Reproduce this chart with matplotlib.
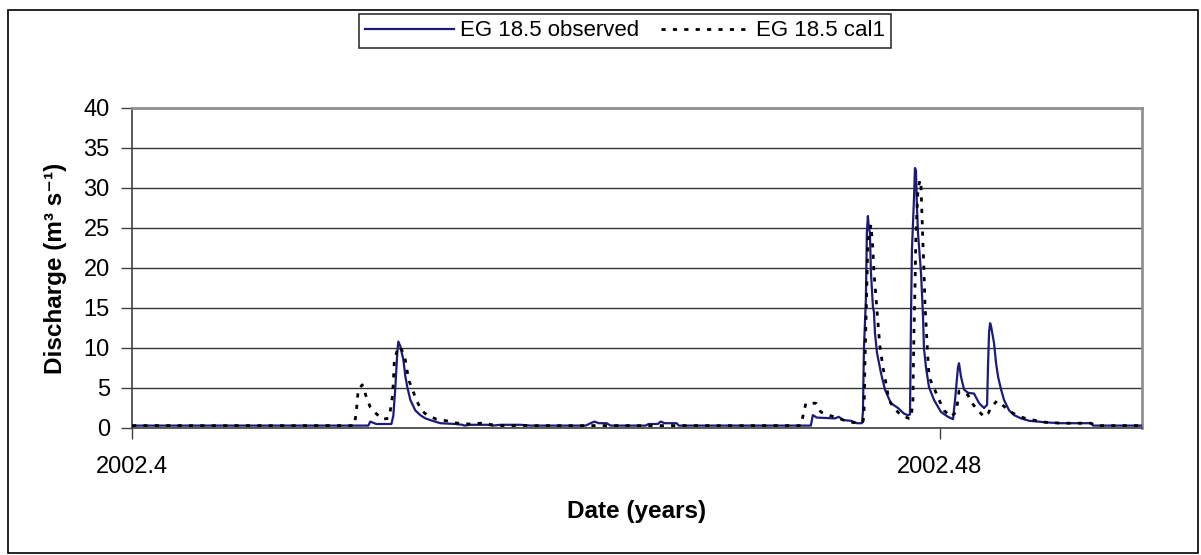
import matplotlib
matplotlib.use("Agg")
import matplotlib.pyplot as plt
from matplotlib.patches import Rectangle

plt.rcParams['font.family'] = ['Liberation Sans', 'DejaVu Sans']

# Observed discharge (decimal years, m3/s)
obs_years = [2002.40000, 2002.42340, 2002.42359, 2002.42399, 2002.42419, 2002.42568,
             2002.42587, 2002.42607, 2002.42627, 2002.42637, 2002.42657, 2002.42687,
             2002.42706, 2002.42726, 2002.42756, 2002.42805, 2002.42855, 2002.42905,
             2002.42974, 2002.43053, 2002.43202, 2002.43271, 2002.43291, 2002.43351,
             2002.43529, 2002.43569, 2002.43648, 2002.43846, 2002.43946, 2002.44491,
             2002.44540, 2002.44580, 2002.44620, 2002.44699, 2002.44739, 2002.45086,
             2002.45115, 2002.45205, 2002.45234, 2002.45274, 2002.45393, 2002.45413,
             2002.46721, 2002.46741, 2002.46781, 2002.46959, 2002.46999, 2002.47038,
             2002.47118, 2002.47177, 2002.47227, 2002.47237, 2002.47247, 2002.47266,
             2002.47276, 2002.47286, 2002.47296, 2002.47306, 2002.47316, 2002.47336,
             2002.47346, 2002.47356, 2002.47376, 2002.47415, 2002.47455, 2002.47514,
             2002.47584, 2002.47643, 2002.47683, 2002.47703, 2002.47713, 2002.47722,
             2002.47742, 2002.47752, 2002.47762, 2002.47772, 2002.47782, 2002.47812,
             2002.47832, 2002.47841, 2002.47861, 2002.47891, 2002.47941, 2002.48010,
             2002.48079, 2002.48129, 2002.48149, 2002.48178, 2002.48188, 2002.48208,
             2002.48238, 2002.48278, 2002.48337, 2002.48387, 2002.48436, 2002.48466,
             2002.48476, 2002.48486, 2002.48496, 2002.48506, 2002.48535, 2002.48555,
             2002.48575, 2002.48605, 2002.48634, 2002.48684, 2002.48734, 2002.48803,
             2002.48882, 2002.48972, 2002.49051, 2002.49200, 2002.49497, 2002.49517,
             2002.50000]
obs_q = [0.3, 0.3, 0.8, 0.6, 0.5, 0.5,
         1.5, 5.0, 9.5, 10.8, 10.2, 8.5,
         6.5, 5.1, 3.5, 2.2, 1.6, 1.2,
         0.9, 0.6, 0.5, 0.4, 0.3, 0.4,
         0.4, 0.3, 0.4, 0.4, 0.3, 0.3,
         0.6, 0.8, 0.6, 0.6, 0.3, 0.3,
         0.5, 0.5, 0.8, 0.6, 0.6, 0.3,
         0.3, 1.6, 1.3, 1.2, 1.4, 1.0,
         0.9, 0.6, 0.6, 2.0, 10.0, 16.0,
         24.5, 26.5, 25.0, 24.4, 19.5, 15.1,
         14.5, 11.9, 9.4, 6.9, 4.8, 3.1,
         2.5, 1.8, 1.6, 1.7, 13.9, 22.3,
         28.5, 32.5, 32.2, 27.6, 24.4, 19.4,
         13.9, 10.0, 7.6, 5.1, 3.5, 2.0,
         1.4, 1.1, 3.5, 7.6, 8.1, 6.4,
         4.8, 4.4, 4.3, 3.1, 2.5, 2.9,
         8.0, 12.0, 13.1, 12.7, 10.6, 8.1,
         6.4, 4.8, 3.5, 2.2, 1.6, 1.2,
         0.9, 0.8, 0.7, 0.6, 0.6, 0.3,
         0.3]

# Modelled discharge, calibration 1
cal_years = [2002.40000, 2002.42201, 2002.42221, 2002.42240, 2002.42280, 2002.42320,
             2002.42359, 2002.42409, 2002.42478, 2002.42538, 2002.42558, 2002.42577,
             2002.42587, 2002.42597, 2002.42627, 2002.42647, 2002.42677, 2002.42706,
             2002.42726, 2002.42746, 2002.42786, 2002.42815, 2002.42865, 2002.42924,
             2002.43014, 2002.43113, 2002.43222, 2002.43331, 2002.43450, 2002.43569,
             2002.43668, 2002.46622, 2002.46652, 2002.46672, 2002.46771, 2002.46820,
             2002.46900, 2002.46999, 2002.47088, 2002.47187, 2002.47237, 2002.47247,
             2002.47256, 2002.47276, 2002.47286, 2002.47316, 2002.47336, 2002.47346,
             2002.47366, 2002.47385, 2002.47405, 2002.47435, 2002.47465, 2002.47494,
             2002.47544, 2002.47613, 2002.47693, 2002.47713, 2002.47732, 2002.47742,
             2002.47752, 2002.47762, 2002.47782, 2002.47802, 2002.47812, 2002.47822,
             2002.47832, 2002.47841, 2002.47851, 2002.47871, 2002.47891, 2002.47941,
             2002.47980, 2002.48040, 2002.48109, 2002.48159, 2002.48178, 2002.48188,
             2002.48228, 2002.48278, 2002.48317, 2002.48377, 2002.48436, 2002.48476,
             2002.48506, 2002.48565, 2002.48644, 2002.48704, 2002.48773, 2002.48872,
             2002.48972, 2002.49051, 2002.49200, 2002.49497, 2002.49527, 2002.50000]
cal_q = [0.3, 0.3, 2.0, 4.8, 5.4, 3.9,
         2.6, 1.9, 1.1, 1.2, 2.2, 3.9,
         5.6, 8.3, 9.8, 10.2, 9.6, 8.5,
         7.0, 5.8, 4.5, 3.5, 2.2, 1.6,
         1.1, 0.9, 0.6, 0.5, 0.6, 0.4,
         0.3, 0.3, 2.0, 3.1, 3.1, 2.0,
         1.6, 1.2, 0.8, 0.6, 0.8, 1.4,
         7.6, 18.0, 23.5, 25.4, 22.3, 19.4,
         16.4, 13.3, 10.2, 7.6, 5.6, 3.5,
         2.5, 1.6, 1.2, 1.2, 3.5, 12.0,
         17.3, 24.4, 29.8, 31.0, 30.2, 26.4,
         22.7, 19.8, 15.6, 10.8, 6.4, 5.0,
         3.8, 2.2, 1.4, 2.0, 3.5, 4.6,
         4.5, 4.1, 3.1, 2.2, 1.4, 1.8,
         2.6, 3.4, 2.6, 2.0, 1.5, 1.1,
         0.9, 0.7, 0.6, 0.6, 0.3, 0.3]

x_ticks = [2002.4, 2002.48]
x_tick_labels = ["2002.4", "2002.48"]
y_ticks = [0, 5, 10, 15, 20, 25, 30, 35, 40]

fig = plt.figure(figsize=(12.01, 5.55), dpi=100)
ax = fig.add_axes([132/1201, 1 - 428/555, 1010/1201, 320/555])

ax.plot(obs_years, obs_q, color='#1c1c78', lw=1.6, label='EG 18.5 observed', zorder=3)
ax.plot(cal_years, cal_q, color='black', lw=2.0, linestyle=(0, (1.5, 2.6)),
        label='EG 18.5 cal1', zorder=4)

ax.set_xlim(2002.4, 2002.5)
ax.set_ylim(0, 40)
ax.set_xticks(x_ticks)
ax.set_xticklabels(x_tick_labels)
ax.set_yticks(y_ticks)
ax.tick_params(axis='both', direction='out', length=8, width=1, color='#404040', labelsize=17)
ax.tick_params(axis='y', pad=8)
ax.tick_params(axis='x', pad=12)

# Gridlines
ax.yaxis.grid(True, color='#333333', lw=1)
ax.set_axisbelow(True)

for side in ['left', 'bottom']:
    ax.spines[side].set_color('#404040')
    ax.spines[side].set_linewidth(1.2)
for side in ['top', 'right']:
    ax.spines[side].set_color('#909090')
    ax.spines[side].set_linewidth(2)

ax.set_xlabel('Date (years)', fontsize=17.5, fontweight='bold', labelpad=16)
ax.set_ylabel('Discharge (m³ s⁻¹)', fontsize=17.5, fontweight='bold', labelpad=12)

leg = fig.legend(loc='center', bbox_to_anchor=(625/1201, 1 - 31/555), ncol=2,
                 fontsize=16, frameon=True, fancybox=False, edgecolor='black',
                 handlelength=4.0, columnspacing=1.0, handletextpad=0.25,
                 borderpad=0.3)
leg.get_frame().set_linewidth(1.2)

# Chart border
fig.patches.append(Rectangle((8/1201, 2/555), 1190/1201, 543/555, transform=fig.transFigure,
                             fill=False, edgecolor='black', lw=1.2))

fig.savefig('out.png', dpi=100)
